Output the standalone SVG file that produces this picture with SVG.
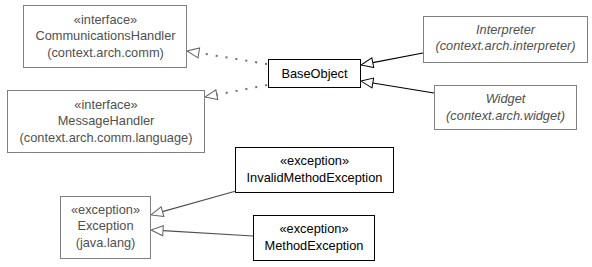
<svg xmlns="http://www.w3.org/2000/svg" width="592" height="267" viewBox="0 0 592 267">
  <style>
    text { font-family: "Liberation Sans", Arial, sans-serif; font-size: 12.8px; text-anchor: middle; }
    .ext rect { fill: #ffffff; stroke: #808080; stroke-width: 1; }
    .ext text { fill: #505050; }
    .own rect { fill: #ffffff; stroke: #000000; stroke-width: 1; }
    .own text { fill: #000000; }
    .it { font-style: italic; }
    .real { stroke: #707070; stroke-width: 2; stroke-dasharray: 2 8; fill: none; }
    .gen { stroke: #000000; stroke-width: 1.2; fill: none; }
    .gen-gray { stroke: #505050; stroke-width: 1.2; fill: none; }
  </style>
  <defs>
    <marker id="tri-gray" markerUnits="userSpaceOnUse" markerWidth="14" markerHeight="12" viewBox="0 -6 14 12" refX="0" refY="0" orient="auto" overflow="visible">
      <path d="M0,-5 L12,0 L0,5 Z" fill="#ffffff" stroke="#606060" stroke-width="1"/>
    </marker>
    <marker id="tri-black" markerUnits="userSpaceOnUse" markerWidth="14" markerHeight="12" viewBox="0 -6 14 12" refX="0" refY="0" orient="auto" overflow="visible">
      <path d="M0,-5 L12,0 L0,5 Z" fill="#ffffff" stroke="#000000" stroke-width="1"/>
    </marker>
  </defs>

  <g id="connectors">
    <line class="real" x1="267" y1="64" x2="198.8" y2="52.9" marker-end="url(#tri-gray)"/>
    <line class="real" x1="267" y1="85" x2="216.8" y2="94.7" marker-end="url(#tri-gray)"/>
    <line class="gen" x1="423" y1="53" x2="372.8" y2="62.7" marker-end="url(#tri-black)"/>
    <line class="gen" x1="434" y1="93" x2="372.8" y2="83" marker-end="url(#tri-black)"/>
    <line class="gen-gray" x1="236" y1="191" x2="162.5" y2="211.7" marker-end="url(#tri-gray)"/>
    <line class="gen-gray" x1="253" y1="236" x2="163" y2="230.7" marker-end="url(#tri-gray)"/>
  </g>

  <g id="CommunicationsHandler" class="ext">
    <rect x="23.5" y="5.5" width="163" height="62"/>
    <text x="105.5" y="23.5">«interface»</text>
    <text x="105.5" y="40">CommunicationsHandler</text>
    <text x="105.5" y="56.5">(context.arch.comm)</text>
  </g>

  <g id="MessageHandler" class="ext">
    <rect x="7.5" y="90.5" width="197" height="62"/>
    <text x="106" y="108.5">«interface»</text>
    <text x="106" y="125">MessageHandler</text>
    <text x="106" y="141.5">(context.arch.comm.language)</text>
  </g>

  <g id="BaseObject" class="own">
    <rect x="268.5" y="59.5" width="92" height="28"/>
    <text x="314.5" y="77.5">BaseObject</text>
  </g>

  <g id="Interpreter" class="ext">
    <rect x="423.5" y="16.5" width="164" height="46"/>
    <text class="it" x="505.5" y="33.5">Interpreter</text>
    <text class="it" x="505.5" y="50">(context.arch.interpreter)</text>
  </g>

  <g id="Widget" class="ext">
    <rect x="434.5" y="85.5" width="142" height="44"/>
    <text class="it" x="505.5" y="103">Widget</text>
    <text class="it" x="505.5" y="120">(context.arch.widget)</text>
  </g>

  <g id="InvalidMethodException" class="own">
    <rect x="235.5" y="147.5" width="158" height="45"/>
    <text x="314.5" y="164.5">«exception»</text>
    <text x="314.5" y="181.5">InvalidMethodException</text>
  </g>

  <g id="MethodException" class="own">
    <rect x="253.5" y="215.5" width="121" height="45"/>
    <text x="314" y="232.5">«exception»</text>
    <text x="314" y="249.5">MethodException</text>
  </g>

  <g id="Exception" class="ext">
    <rect x="60.5" y="196.5" width="90" height="62"/>
    <text x="105.5" y="213.5">«exception»</text>
    <text x="105.5" y="230">Exception</text>
    <text x="105.5" y="246.5">(java.lang)</text>
  </g>
</svg>
